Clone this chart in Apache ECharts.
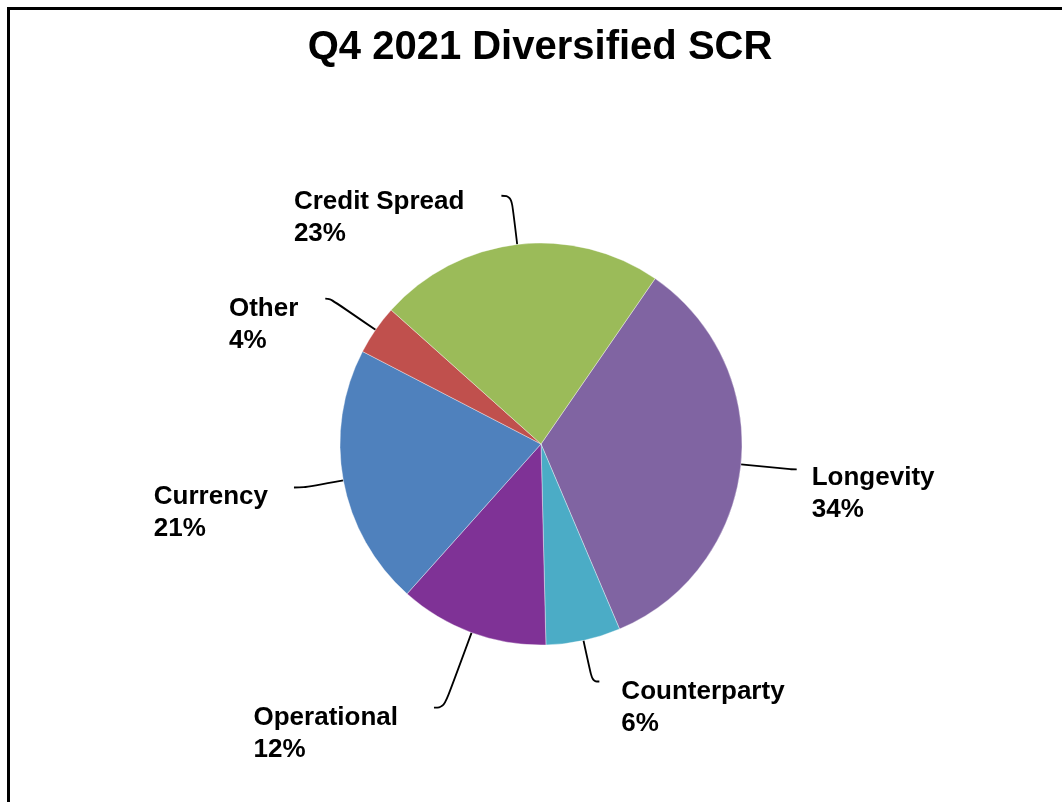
<!DOCTYPE html>
<html>
<head>
<meta charset="utf-8">
<script src="https://cdn.jsdelivr.net/npm/echarts@6/dist/echarts.min.js"></script>
<style>
html,body{margin:0;padding:0;background:#fff;}
#frame{position:absolute;left:7px;top:7px;width:1062px;height:802px;border-left:3px solid #000;border-top:3px solid #000;box-sizing:border-box;}
#chart{position:absolute;left:0;top:0;width:1062px;height:802px;}
</style>
</head>
<body>
<div id="frame"></div>
<div id="chart"></div>
<script>
const titleText = 'Q4 2021 Diversified SCR';
const categories = ['Longevity', 'Counterparty', 'Operational', 'Currency', 'Other', 'Credit Spread'];
const values = [34, 6, 12, 21, 4, 23];
const colors = ['#8064A2', '#4BACC6', '#7F3296', '#4F81BD', '#C0504D', '#9BBB59'];

// leader line geometry per slice (style only)
const lineLen = [50, 42, 80, 40, 55, 49];
const lineLen2 = [6, 7, 10, 10, 5, 10];
const labelGap = [15, 22, 36, 26, 27, 37];
const labelPadTop = [48, 52, 52, 50, 52, 44];

const chart = echarts.init(document.getElementById('chart'), null, {renderer: 'canvas'});

const data = categories.map((c, i) => ({
  name: c,
  value: values[i],
  itemStyle: {color: colors[i]},
  labelLine: {length: lineLen[i], length2: lineLen2[i]},
  label: {distanceToLabelLine: labelGap[i], padding: [labelPadTop[i], 0, 0, 0]}
}));

chart.setOption({
  animation: false,
  title: {
    text: titleText,
    left: 535,
    top: 23,
    textAlign: 'center',
    textStyle: {fontFamily: 'Liberation Sans, Arial, sans-serif', fontSize: 40, fontWeight: 'bold', color: '#000'}
  },
  series: [{
    type: 'pie',
    center: [541, 444],
    radius: [0, 201],
    startAngle: 55.4,
    clockwise: true,
    avoidLabelOverlap: false,
    data: data,
    itemStyle: {borderColor: 'rgba(255,255,255,0.6)', borderWidth: 0.6},
    label: {
      show: true,
      position: 'outside',
      alignTo: 'none',
      formatter: function (p) { return '{a|' + p.name + '}\n{a|' + Math.round(p.percent) + '%}'; },
      rich: {
        a: {align: 'left', fontFamily: 'Liberation Sans, Arial, sans-serif', fontSize: 26, fontWeight: 'bold', color: '#000', lineHeight: 32}
      }
    },
    labelLine: {
      show: true,
      smooth: 0.45,
      minTurnAngle: 60,
      lineStyle: {color: '#000', width: 1.8}
    }
  }]
});
</script>
</body>
</html>
